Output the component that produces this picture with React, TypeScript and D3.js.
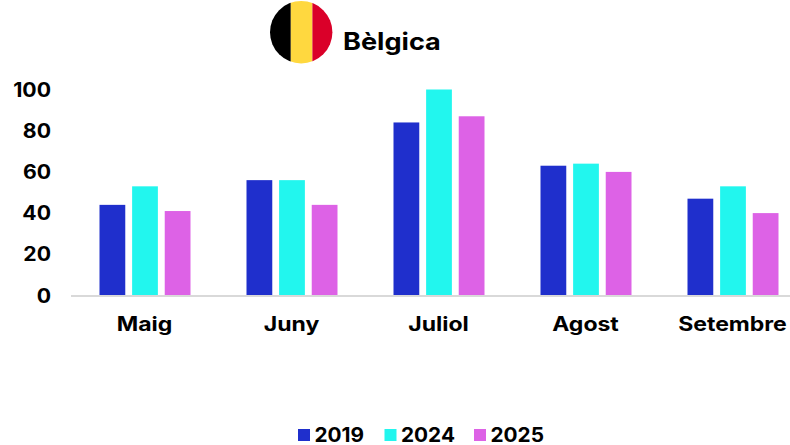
import React from "react";
import * as d3 from "d3";

const categories = ["Maig", "Juny", "Juliol", "Agost", "Setembre"];
const seriesNames = ["2019", "2024", "2025"];
const values2019 = [44, 56, 84, 63, 47];
const values2024 = [53, 56, 100, 64, 53];
const values2025 = [41, 44, 87, 60, 40];
const seriesValues = [values2019, values2024, values2025];
const colors = ["#1f2fcc", "#22f6ee", "#dd62e6"];
const yTicks = [0, 20, 40, 60, 80, 100];

const FONT = "Inter, 'Noto Sans', sans-serif";

function WideText({ x, y, sx, anchor = "start", size, children }: any) {
  return (
    <text transform={`translate(${x},${y}) scale(${sx},1)`} textAnchor={anchor} fontSize={size} fill="#000">
      {children}
    </text>
  );
}

export default function App() {
  const x0 = d3.scaleBand<string>().domain(categories).range([71.5, 806.5]);
  const x1 = d3.scaleBand<string>().domain(seriesNames).range([28, 119]).paddingInner(0.21).paddingOuter(0);
  const y = d3.scaleLinear().domain([0, 100]).range([295.5, 89.5]);
  const r = 31.2;
  const cx = 301.2, cy = 32.2;
  return (
    <svg width={790} height={445} style={{ position: "absolute", left: 0, top: 0, display: "block" }} fontFamily={FONT} fontWeight={700}>
      <defs>
        <clipPath id="flag"><circle cx={cx} cy={cy} r={r} /></clipPath>
      </defs>
      <g clipPath="url(#flag)">
        <rect x={cx - r} y={0} width={20.8} height={64} fill="#000" />
        <rect x={cx - r + 20.8} y={0} width={21.6} height={64} fill="#ffd83f" />
        <rect x={cx - r + 42.4} y={0} width={20.8} height={64} fill="#da0029" />
      </g>
      <WideText x={343} y={50} sx={1.13} size={24}>Bèlgica</WideText>
      {yTicks.map((t) => (
        <WideText key={t} x={51} y={y(t) + 7} sx={1.09} anchor="end" size={19.5}>{t}</WideText>
      ))}
      {categories.map((c, i) => (
        <g key={c}>
          {seriesNames.map((s, j) => (
            <rect key={s} x={x0(c)! + x1(s)!} y={y(seriesValues[j][i])} width={x1.bandwidth()} height={y(0) - y(seriesValues[j][i])} fill={colors[j]} />
          ))}
          <WideText x={x0(c)! + x0.bandwidth() / 2 - 0.5} y={331} sx={1.18} anchor="middle" size={19.5}>{c}</WideText>
        </g>
      ))}
      <line x1={71} x2={790} y1={296} y2={296} stroke="#d9d9d9" strokeWidth={2} />
      {seriesNames.map((s, j) => {
        const lx = [298, 384.5, 474][j];
        return (
          <g key={s}>
            <rect x={lx} y={429} width={12} height={12} fill={colors[j]} />
            <WideText x={lx + 16.5} y={441.5} sx={1.04} size={20}>{s}</WideText>
          </g>
        );
      })}
    </svg>
  );
}
